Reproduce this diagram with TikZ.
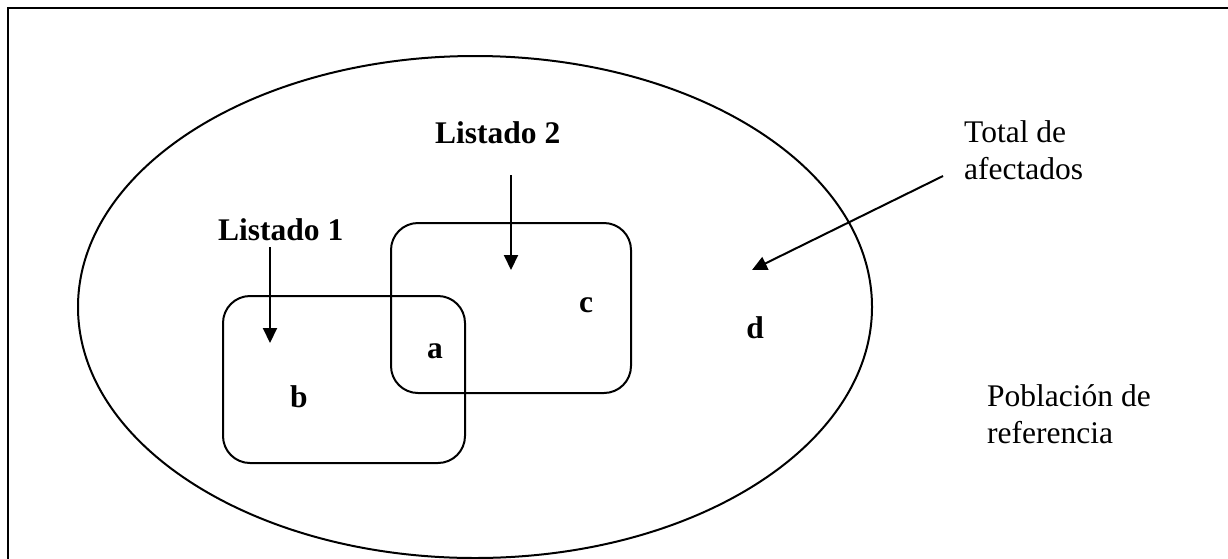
\documentclass[tikz,border=0pt]{standalone}
\usepackage{fontspec}
\setmainfont{Liberation Serif}
\usetikzlibrary{arrows.meta,shapes.geometric}
\tikzset{
  line/.style={line width=2pt},
  setbox/.style={line, draw, rounded corners=27pt, inner sep=0pt},
  arr/.style={line, -{Triangle[length=15pt,width=14pt]}},
  txt/.style={inner sep=0pt, font=\fontsize{31.5}{37}\selectfont},
  btxt/.style={txt, font=\fontsize{31.5}{37}\selectfont\bfseries},
}
\begin{document}
\begin{tikzpicture}[x=1pt,y=-1pt]
\useasboundingbox (0,0) rectangle (1228,558);
\clip (0,0) rectangle (1228,558);
% frame
\node[line, draw, inner sep=0pt, minimum width=1240pt, minimum height=570pt, anchor=north west] (frame) at (7,7) {};
% ellipse
\node[line, draw, ellipse, inner sep=0pt, minimum width=794pt, minimum height=502pt] (pop) at (475,307) {};
% boxes
\node[setbox, minimum width=240pt, minimum height=170pt] (box2) at (511,308) {};
\node[setbox, minimum width=242pt, minimum height=167pt] (box1) at (344,379.5) {};
% labels
\node[btxt, anchor=base west] (l1) at (218,240) {Listado 1};
\node[btxt, anchor=base west] (l2) at (435,143) {Listado 2};
\node[btxt, anchor=base] (a) at (435,358) {a};
\node[btxt, anchor=base] (b) at (299,407) {b};
\node[btxt, anchor=base] (c) at (586,312) {c};
\node[btxt, anchor=base] (d) at (755,338) {d};
\node[txt, anchor=base west, align=left] (tot) at (964,179) {Total de\\afectados};
\node[txt, anchor=base west, align=left] (ref) at (987,443) {Población de\\referencia};
% arrows
\coordinate (l1s) at (270,247);
\coordinate (l1e) at (270,343);
\coordinate (l2s) at (511,175);
\coordinate (l2e) at (511,270);
\coordinate (ts) at (943,176);
\coordinate (te) at (752,270);
\draw[arr] (l1s) -- (l1e);
\draw[arr] (l2s) -- (l2e);
\draw[arr] (ts) -- (te);
\end{tikzpicture}
\end{document}
